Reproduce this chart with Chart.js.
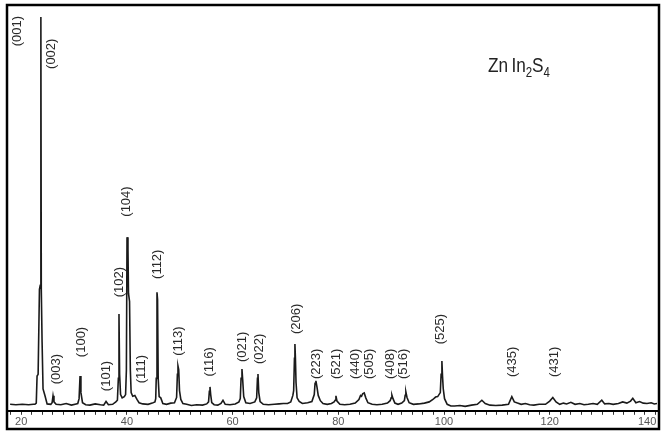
<!DOCTYPE html>
<html>
<head>
<meta charset="utf-8">
<script src="https://cdn.jsdelivr.net/npm/chart.js@4/dist/chart.umd.min.js"></script>
<style>
  body { margin: 0; background: #fff; }
  canvas { display: block; }
</style>
</head>
<body>
<canvas id="xrd" width="664" height="432"></canvas>
<script>
// 2-theta (deg) and intensity (a.u.)
const twoTheta = [
  17.9, 19.0, 20.2, 21.4, 22.3, 22.6, 22.85, 23.0, 23.2, 23.45, 23.6, 23.72, 23.8, 23.95, 24.13, 24.5, 24.9,
  25.6, 25.85, 26.02, 26.2, 26.6, 27.5, 28.5, 29.5, 30.4, 30.7, 30.95, 31.13, 31.3, 31.6, 32.2, 33.0, 34.0,
  35.0, 35.6, 36.05, 36.5, 37.3, 37.9, 38.2, 38.38, 38.5, 38.62, 38.8, 39.1, 39.5, 39.75, 39.9, 40.02, 40.2,
  40.3, 40.5, 40.65, 40.8, 41.1, 41.5, 41.9, 42.3, 43.0, 44.0, 44.8, 45.3, 45.45, 45.55, 45.69, 45.8, 45.92,
  46.1, 46.4, 46.8, 47.5, 48.3, 49.0, 49.4, 49.55, 49.66, 49.8, 49.95, 50.2, 50.6, 51.3, 52.2, 53.2, 54.3,
  55.1, 55.45, 55.6, 55.72, 55.85, 56.05, 56.5, 57.2, 57.8, 58.18, 58.6, 59.5, 60.5, 61.2, 61.45, 61.6, 61.77,
  61.9, 62.1, 62.5, 63.3, 64.2, 64.55, 64.7, 64.8, 64.95, 65.2, 65.8, 66.8, 67.9, 68.8, 69.6, 70.4, 71.0,
  71.4, 71.55, 71.7, 71.79, 71.88, 72.0, 72.2, 72.6, 73.2, 74.2, 75.0, 75.45, 75.6, 75.76, 75.95, 76.2, 76.6,
  77.1, 77.9, 78.7, 79.2, 79.4, 79.55, 79.75, 80.3, 81.2, 82.2, 83.2, 83.9, 84.2, 84.4, 84.6, 84.9, 85.2,
  85.6, 86.4, 87.3, 88.3, 89.3, 89.8, 90.0, 90.14, 90.35, 90.7, 91.3, 92.0, 92.5, 92.65, 92.78, 93.0, 93.4,
  94.2, 95.2, 96.3, 97.2, 97.9, 98.4, 98.8, 99.3, 99.45, 99.6, 99.72, 99.85, 100.1, 100.6, 101.3, 102.0,
  103.0, 104.0, 105.2, 106.3, 107.16, 107.8, 108.7, 109.8, 111.0, 112.2, 112.83, 113.3, 113.9, 114.6, 115.4,
  116.2, 117.0, 118.0, 119.2, 120.0, 120.59, 121.2, 121.9, 122.6, 123.2, 124.0, 124.8, 125.7, 126.5, 127.3,
  128.2, 129.0, 129.85, 130.4, 131.2, 132.0, 133.0, 133.8, 134.6, 135.3, 135.72, 136.3, 137.0, 137.7, 138.4,
  139.2, 139.8, 140.3
];
const intensity = [
  1.6, 1.5, 1.6, 1.5, 1.6, 1.6, 1.9, 8.6, 9.0, 30.0, 31.0, 97.3, 30.0, 17.0, 5.4, 3.7, 1.7,
  1.6, 2.0, 3.7, 2.2, 1.6, 1.5, 1.8, 1.4, 1.7, 1.8, 3.0, 8.6, 4.5, 2.0, 1.5, 1.4, 1.7,
  1.5, 1.4, 2.3, 1.5, 1.6, 2.2, 2.6, 8.0, 23.9, 9.0, 4.0, 3.2, 3.5, 4.0, 10.0, 42.9, 39.8,
  29.0, 27.0, 10.0, 4.5, 3.6, 3.8, 2.8, 2.0, 1.7, 1.6, 1.9, 2.2, 3.0, 8.0, 29.3, 27.5, 8.0,
  3.5, 3.2, 1.8, 1.6, 1.9, 2.0, 3.3, 9.0, 11.1, 10.2, 5.0, 2.8, 1.8, 1.6, 1.3, 1.5, 1.4,
  1.7, 2.2, 4.8, 5.9, 4.0, 2.0, 1.5, 1.4, 1.8, 2.6, 1.6, 1.5, 1.7, 2.2, 3.0, 8.0, 10.3,
  7.8, 3.5, 2.0, 1.8, 2.2, 3.2, 8.0, 9.1, 4.5, 2.3, 1.6, 1.5, 1.6, 1.7, 1.8, 1.8, 2.2,
  3.8, 5.0, 13.0, 16.5, 13.2, 7.0, 3.2, 2.3, 1.8, 2.0, 2.3, 4.0, 6.8, 7.4, 6.0, 3.8, 2.5,
  1.8, 1.6, 1.8, 2.2, 2.6, 3.7, 2.4, 1.6, 1.5, 1.6, 1.9, 2.8, 3.8, 3.6, 4.2, 4.4, 3.2,
  2.0, 1.6, 1.5, 1.6, 1.9, 2.5, 3.2, 3.9, 3.0, 1.9, 1.6, 1.9, 2.5, 3.8, 4.7, 3.3, 2.0,
  1.6, 1.7, 1.9, 2.2, 2.8, 3.4, 3.5, 4.5, 9.0, 12.3, 8.5, 5.5, 3.0, 1.6, 1.2, 1.2,
  1.3, 1.1, 1.4, 1.6, 2.6, 1.8, 1.4, 1.3, 1.4, 1.6, 3.5, 2.2, 1.9, 1.6, 1.8,
  1.5, 1.4, 1.6, 1.6, 2.4, 3.3, 2.2, 1.6, 1.9, 1.7, 2.1, 1.6, 1.8, 1.5, 1.6,
  1.8, 1.6, 2.6, 1.7, 1.8, 1.6, 1.8, 2.2, 1.9, 2.4, 3.1, 2.0, 2.3, 1.9, 1.8,
  2.0, 1.7, 1.8
];

// reflection labels, anchored at (2-theta, intensity) of the label centre
const peakNames = ['(001)', '(002)', '(003)', '(100)', '(101)', '(102)', '(104)', '(111)', '(112)', '(113)',
  '(116)', '(021)', '(022)', '(206)', '(223)', '(521)', '(440)', '(505)', '(408)', '(516)', '(525)', '(435)', '(431)'];
const labelTheta = [19.2, 25.8, 26.6, 31.3, 36.05, 38.5, 40.0, 42.7, 45.7, 49.7,
  55.7, 61.8, 65.0, 72.0, 75.95, 79.55, 83.3, 85.8, 89.95, 92.4, 99.4, 113.0, 120.8];
const labelHeight = [93.8, 88.2, 10.3, 17.0, 8.6, 31.8, 51.7, 10.3, 36.2, 17.2,
  12.1, 15.8, 15.3, 22.7, 11.6, 11.6, 11.6, 11.6, 11.6, 11.6, 20.2, 12.1, 12.1];

const tickValues = [20, 40, 60, 80, 100, 120, 140];

const decorations = {
  id: 'decorations',
  afterDatasetsDraw(chart) {
    const { ctx, scales: { x, y } } = chart;
    ctx.save();
    ctx.fillStyle = '#2a2a2a';
    ctx.font = '13px Arial, "Liberation Sans", sans-serif';
    ctx.textAlign = 'center';
    ctx.textBaseline = 'middle';
    peakNames.forEach((name, i) => {
      ctx.save();
      ctx.translate(x.getPixelForValue(labelTheta[i]), y.getPixelForValue(labelHeight[i]));
      ctx.rotate(-Math.PI / 2);
      ctx.fillText(name, 0, 0);
      ctx.restore();
    });

    // compound name with subscripts
    ctx.save();
    ctx.translate(488, 72);
    ctx.scale(0.82, 1);
    ctx.textAlign = 'left';
    ctx.textBaseline = 'alphabetic';
    ctx.fillStyle = '#222';
    let cx = 0;
    [['Zn', 21, 0], ['In', 21, 0], ['2', 14, 5], ['S', 21, 0], ['4', 14, 5]].forEach(([t, size, dy]) => {
      ctx.font = size + 'px Arial, "Liberation Sans", sans-serif';
      ctx.fillText(t, cx, dy);
      cx += ctx.measureText(t).width + (t === 'Zn' ? 4 : 0);
    });
    ctx.restore();

    // outer frame
    ctx.strokeStyle = '#000';
    ctx.lineWidth = 2.5;
    ctx.strokeRect(7, 5, 652, 424);
    ctx.restore();
  }
};

new Chart(document.getElementById('xrd'), {
  type: 'line',
  data: {
    datasets: [{
      data: twoTheta.map((t, i) => ({ x: t, y: intensity[i] })),
      borderColor: '#1a1a1a',
      borderWidth: 1.6,
      pointRadius: 0,
      tension: 0,
      fill: false
    }]
  },
  options: {
    responsive: false,
    animation: false,
    layout: { padding: { left: 8, right: 7, top: 6, bottom: 2 } },
    plugins: { legend: { display: false }, tooltip: { enabled: false } },
    scales: {
      x: {
        type: 'linear',
        min: 17.5,
        max: 140.3,
        afterFit(scale) { scale.paddingLeft = 0; scale.paddingRight = 0; },
        border: { display: true, color: '#000', width: 2 },
        grid: { drawOnChartArea: false, drawTicks: true, tickLength: 4, color: '#333' },
        ticks: {
          stepSize: 2,
          autoSkip: false,
          maxTicksLimit: 100,
          includeBounds: false,
          maxRotation: 0,
          padding: 1,
          color: '#555',
          font: { size: 11, family: 'Arial, "Liberation Sans", sans-serif' },
          callback: (v) => tickValues.includes(v) ? (v === 140 ? '140\u2002\u2002\u2002' : String(v)) : ''
        }
      },
      y: { display: false, min: 0, max: 100 }
    }
  },
  plugins: [decorations]
});
</script>
</body>
</html>
